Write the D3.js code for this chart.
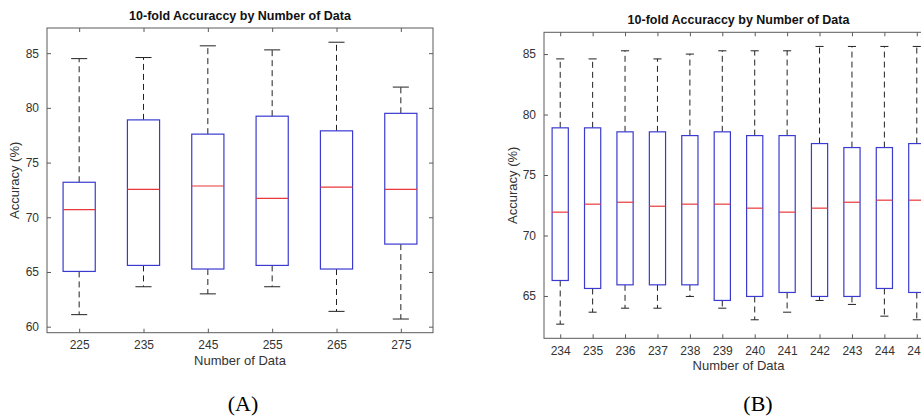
<!DOCTYPE html>
<html>
<head>
<meta charset="utf-8">
<script src="https://cdn.jsdelivr.net/npm/d3@7"></script>
<style>
  body { margin: 0; background: #fff; }
  svg { display: block; }
</style>
</head>
<body>
<div id="chart"></div>
<script>
// Panel A: 10-fold accuracy by number of data
var catsA = ["225", "235", "245", "255", "265", "275"];
var loA  = [61.1, 63.65, 63.0, 63.65, 61.4, 60.7];
var q1A  = [65.05, 65.6, 65.27, 65.6, 65.27, 67.55];
var medA = [70.7, 72.55, 72.86, 71.73, 72.76, 72.55];
var q3A  = [73.2, 78.9, 77.6, 79.24, 77.9, 79.5];
var hiA  = [84.5, 84.6, 85.67, 85.3, 86.0, 81.9];
var ticksA = [60, 65, 70, 75, 80, 85];

// Panel B
var catsB = ["234", "235", "236", "237", "238", "239", "240", "241", "242", "243", "244", "245"];
var loB  = [62.67, 63.66, 63.99, 63.99, 64.96, 63.99, 63.03, 63.66, 64.63, 64.30, 63.33, 63.03];
var q1B  = [66.28, 65.62, 65.92, 65.92, 65.92, 64.63, 64.96, 65.29, 64.96, 64.96, 65.62, 65.29];
var medB = [71.93, 72.59, 72.75, 72.42, 72.59, 72.59, 72.26, 71.93, 72.26, 72.75, 72.92, 72.92];
var q3B  = [78.9, 78.9, 78.57, 78.57, 78.26, 78.57, 78.26, 78.26, 77.6, 77.27, 77.27, 77.6];
var hiB  = [84.6, 84.6, 85.27, 84.6, 85.0, 85.27, 85.27, 85.27, 85.63, 85.63, 85.63, 85.63];
var ticksB = [65, 70, 75, 80, 85];

var width = 921;
var height = 418;
var font = "'Liberation Sans', Arial, Helvetica, sans-serif";

var svg = d3.select("#chart")
  .append("svg")
  .attr("width", width)
  .attr("height", height);

function drawPanel(p) {
  var n = p.cats.length;
  var x = d3.scaleLinear().domain([0.5, n + 0.5]).range([p.left, p.right]);
  var y = d3.scaleLinear().domain(p.ydom).range([p.bottom, p.top]);
  var g = svg.append("g");

  // axes frame
  g.append("rect")
    .attr("x", p.left).attr("y", p.top)
    .attr("width", p.right - p.left).attr("height", p.bottom - p.top)
    .attr("fill", "none").attr("stroke", "#5a5a5a").attr("stroke-width", 1);

  // bottom axis with labels
  var xb = g.append("g")
    .attr("transform", "translate(0," + p.bottom + ")")
    .call(d3.axisBottom(x).tickValues(d3.range(1, n + 1))
      .tickFormat(function (d) { return p.cats[d - 1]; })
      .tickSizeInner(-4).tickSizeOuter(0).tickPadding(8));
  // left axis with labels
  var yl = g.append("g")
    .attr("transform", "translate(" + p.left + ",0)")
    .call(d3.axisLeft(y).tickValues(p.ticks).tickSizeInner(-4).tickSizeOuter(0).tickPadding(8));
  // top and right ticks only
  var xt = g.append("g")
    .attr("transform", "translate(0," + p.top + ")")
    .call(d3.axisTop(x).tickValues(d3.range(1, n + 1)).tickFormat("")
      .tickSizeInner(-4).tickSizeOuter(0));
  var yr = g.append("g")
    .attr("transform", "translate(" + p.right + ",0)")
    .call(d3.axisRight(y).tickValues(p.ticks).tickFormat("")
      .tickSizeInner(-4).tickSizeOuter(0));

  [xb, yl, xt, yr].forEach(function (a) {
    a.select(".domain").remove();
    a.selectAll("line").attr("stroke", "#5a5a5a");
    a.selectAll("text")
      .style("font-family", font)
      .style("font-size", "12px")
      .attr("fill", "#333");
  });

  var rows = p.cats.map(function (c, i) {
    return { i: i + 1, lo: p.lo[i], q1: p.q1[i], med: p.med[i], q3: p.q3[i], hi: p.hi[i] };
  });
  var bw = x(1.25) - x(1);   // half box width (0.5 units total)
  var cw = x(1.125) - x(1);  // half cap width

  var box = g.selectAll(".box").data(rows).enter().append("g");

  // whiskers
  box.append("line")
    .attr("x1", function (d) { return x(d.i); }).attr("x2", function (d) { return x(d.i); })
    .attr("y1", function (d) { return y(d.q3); }).attr("y2", function (d) { return y(d.hi); })
    .attr("stroke", "#222").attr("stroke-dasharray", "6,4");
  box.append("line")
    .attr("x1", function (d) { return x(d.i); }).attr("x2", function (d) { return x(d.i); })
    .attr("y1", function (d) { return y(d.q1); }).attr("y2", function (d) { return y(d.lo); })
    .attr("stroke", "#222").attr("stroke-dasharray", "6,4");
  // caps
  box.append("line")
    .attr("x1", function (d) { return x(d.i) - cw; }).attr("x2", function (d) { return x(d.i) + cw; })
    .attr("y1", function (d) { return y(d.hi); }).attr("y2", function (d) { return y(d.hi); })
    .attr("stroke", "#222");
  box.append("line")
    .attr("x1", function (d) { return x(d.i) - cw; }).attr("x2", function (d) { return x(d.i) + cw; })
    .attr("y1", function (d) { return y(d.lo); }).attr("y2", function (d) { return y(d.lo); })
    .attr("stroke", "#222");
  // boxes
  box.append("rect")
    .attr("x", function (d) { return x(d.i) - bw; })
    .attr("width", 2 * bw)
    .attr("y", function (d) { return y(d.q3); })
    .attr("height", function (d) { return y(d.q1) - y(d.q3); })
    .attr("fill", "#fff").attr("stroke", "#3a3ad0").attr("stroke-width", 1.2);
  // medians
  box.append("line")
    .attr("x1", function (d) { return x(d.i) - bw; }).attr("x2", function (d) { return x(d.i) + bw; })
    .attr("y1", function (d) { return y(d.med); }).attr("y2", function (d) { return y(d.med); })
    .attr("stroke", "#e8383a").attr("stroke-width", 1.2);

  var cx = (p.left + p.right) / 2;
  // title
  g.append("text")
    .attr("x", cx).attr("y", p.top - 8)
    .attr("text-anchor", "middle")
    .style("font-family", font).style("font-size", "12.5px").style("font-weight", "bold")
    .attr("fill", "#111")
    .text("10-fold Accuraccy by Number of Data");
  // x label
  g.append("text")
    .attr("x", cx).attr("y", p.bottom + 32)
    .attr("text-anchor", "middle")
    .style("font-family", font).style("font-size", "13px")
    .attr("fill", "#333")
    .text("Number of Data");
  // y label
  g.append("text")
    .attr("transform", "translate(" + p.ylabX + "," + ((p.top + p.bottom) / 2) + ") rotate(-90)")
    .attr("text-anchor", "middle")
    .style("font-family", font).style("font-size", "13px")
    .attr("fill", "#333")
    .text("Accuracy (%)");
  // panel letter
  svg.append("text")
    .attr("x", p.letterX).attr("y", 411)
    .attr("text-anchor", "middle")
    .style("font-family", "'Liberation Serif', 'Times New Roman', serif")
    .style("font-size", "22px")
    .attr("fill", "#000")
    .text(p.letter);
}

drawPanel({
  cats: catsA, lo: loA, q1: q1A, med: medA, q3: q3A, hi: hiA, ticks: ticksA,
  ydom: [59.45, 87.3], left: 47, right: 433, top: 28, bottom: 332.7,
  ylabX: 19, letter: "(A)", letterX: 243
});
drawPanel({
  cats: catsB, lo: loB, q1: q1B, med: medB, q3: q3B, hi: hiB, ticks: ticksB,
  ydom: [61.5, 86.8], left: 544, right: 933, top: 32.3, bottom: 338.3,
  ylabX: 517, letter: "(B)", letterX: 758
});
</script>
</body>
</html>
